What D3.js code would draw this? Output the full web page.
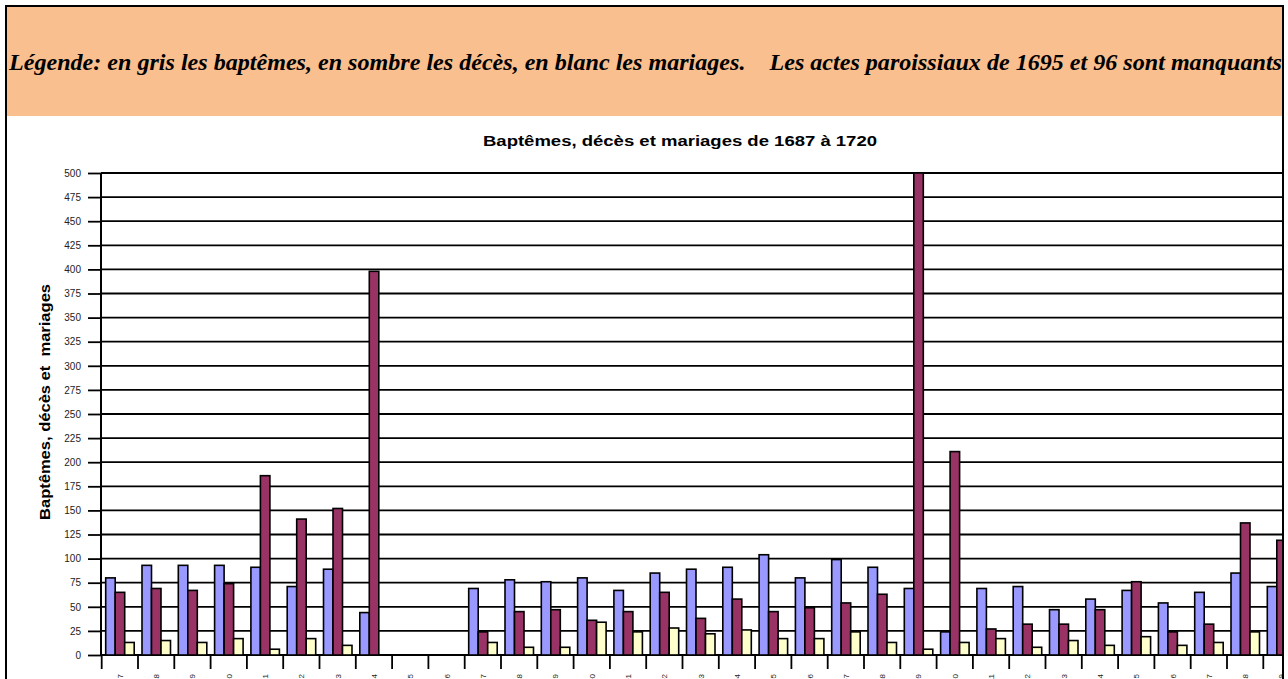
<!DOCTYPE html>
<html>
<head>
<meta charset="utf-8">
<script src="https://cdn.jsdelivr.net/npm/d3@7"></script>
<style>
  html, body { margin: 0; padding: 0; background: #fff; overflow: hidden; }
  svg { display: block; }
</style>
</head>
<body>
<svg id="chart" width="1288" height="679"></svg>
<script>
// years shown on the x axis (1695 and 1696 are missing in the registers)
const years = d3.range(1687, 1721).map(String);

// null = no data / off-screen
const baptemes = [80, 93, 93, 93, 91, 71, 89, 44, null, null, 69, 78, 76, 80, 67, 85, 89, 91, 104, 80,
                  99, 91, 69, 24, 69, 71, 47, 58, 67, 54, 65, 85, 71, null];
const deces    = [65, 69, 67, 74, 186, 141, 152, 398, null, null, 24, 45, 47, 36, 45, 65, 38, 58, 45, 49,
                  54, 63, 500, 211, 27, 32, 32, 47, 76, 24, 32, 137, 119, null];
const mariages = [13, 15, 13, 17, 6, 17, 10, 0, null, null, 13, 8, 8, 34, 24, 28, 22, 26, 17, 17,
                  24, 13, 6, 13, 17, 8, 15, 10, 19, 10, 13, 24, null, null];

const seriesNames = ["baptemes", "deces", "mariages"];
const seriesColors = ["#9999ff", "#993366", "#ffffcc"];
const yTicks = d3.range(0, 501, 25);

const headerText = "Légende: en gris les baptêmes, en sombre les décès, en blanc les mariages.    Les actes paroissiaux de 1695 et 96 sont manquants";
const chartTitle = "Baptêmes, décès et mariages de 1687 à 1720";
const yTitle = "Baptêmes, décès et  mariages";

const svg = d3.select("#chart");

// header box
svg.append("rect")
    .attr("x", 6).attr("y", 6).attr("width", 1277).attr("height", 110)
    .attr("fill", "#f9bf8f");
svg.append("text")
    .attr("x", 9).attr("y", 70)
    .attr("textLength", 1273)
    .attr("lengthAdjust", "spacingAndGlyphs")
    .attr("font-family", "Liberation Serif, Times New Roman, serif")
    .attr("font-style", "italic").attr("font-weight", "bold")
    .attr("font-size", 24)
    .attr("xml:space", "preserve")
    .style("white-space", "pre")
    .text(headerText);

// outer frame
svg.append("path")
    .attr("d", "M6,690 V6 H1283 V690")
    .attr("fill", "none").attr("stroke", "#000").attr("stroke-width", 2);

// scales
const x0 = d3.scaleBand().domain(years).range([101.7, 101.7 + 36.3 * years.length]);
const x1 = d3.scaleBand().domain(seriesNames).range([4, 32.5]);
const y = d3.scaleLinear().domain([0, 500]).range([655, 173]);

svg.append("defs").append("clipPath").attr("id", "plotclip")
    .append("rect").attr("x", 0).attr("y", 0).attr("width", 1282).attr("height", 679);

const plot = svg.append("g").attr("clip-path", "url(#plotclip)");

// title
svg.append("text")
    .attr("x", 680).attr("y", 146)
    .attr("text-anchor", "middle")
    .attr("textLength", 394).attr("lengthAdjust", "spacingAndGlyphs")
    .attr("font-family", "Liberation Sans, Arial, sans-serif")
    .attr("font-weight", "bold").attr("font-size", 14)
    .text(chartTitle);

// y title
svg.append("text")
    .attr("transform", "translate(50,402) rotate(-90)")
    .attr("text-anchor", "middle")
    .attr("textLength", 236).attr("lengthAdjust", "spacingAndGlyphs")
    .attr("font-family", "Liberation Sans, Arial, sans-serif")
    .attr("font-weight", "bold").attr("font-size", 14)
    .attr("xml:space", "preserve")
    .text(yTitle);

// gridlines
plot.append("g")
    .selectAll("line")
    .data(yTicks)
    .enter().append("line")
    .attr("x1", 101).attr("x2", 1290)
    .attr("y1", d => y(d)).attr("y2", d => y(d))
    .attr("stroke", "#000").attr("stroke-width", 1.8);

// y axis
const yAxis = svg.append("g")
    .attr("transform", "translate(101,0)")
    .call(d3.axisLeft(y).tickValues(yTicks).tickSize(13).tickPadding(7));
yAxis.select(".domain").attr("stroke", "#000").attr("stroke-width", 2)
    .attr("d", "M0," + y(500) + "V" + y(0));
yAxis.selectAll(".tick line").attr("stroke", "#000").attr("stroke-width", 1.8);
yAxis.selectAll(".tick text")
    .attr("font-family", "Liberation Sans, Arial, sans-serif")
    .attr("font-size", 10).attr("fill", "#222");

// bars
const table = years.map((yr, i) => ({
    year: yr,
    values: [baptemes[i], deces[i], mariages[i]]
}));

const groups = plot.append("g")
    .selectAll("g")
    .data(table)
    .enter().append("g")
    .attr("transform", d => "translate(" + x0(d.year) + ",0)");

groups.selectAll("rect")
    .data(d => d.values.map((v, k) => ({ key: seriesNames[k], value: v, k: k })).filter(e => e.value !== null && e.value > 0))
    .enter().append("rect")
    .attr("x", d => x1(d.key))
    .attr("width", x1.bandwidth())
    .attr("y", d => y(d.value))
    .attr("height", d => y(0) - y(d.value))
    .attr("fill", d => seriesColors[d.k])
    .attr("stroke", "#000").attr("stroke-width", 1.6);

// x axis: ticks at category boundaries
const xAxis = plot.append("g");
xAxis.selectAll("line.tick")
    .data(years.concat(["end"]))
    .enter().append("line")
    .attr("class", "tick")
    .attr("x1", (d, i) => x0.range()[0] + i * x0.step())
    .attr("x2", (d, i) => x0.range()[0] + i * x0.step())
    .attr("y1", y(0)).attr("y2", y(0) + 14)
    .attr("stroke", "#000").attr("stroke-width", 1.8);
xAxis.selectAll("text")
    .data(years)
    .enter().append("text")
    .attr("transform", d => "translate(" + (x0(d) + x0.bandwidth() / 2 + 3) + "," + (y(0) + 19) + ") rotate(-90)")
    .attr("text-anchor", "end")
    .attr("font-family", "Liberation Sans, Arial, sans-serif")
    .attr("font-size", 8).attr("fill", "#222")
    .text(d => d);
</script>
</body>
</html>
